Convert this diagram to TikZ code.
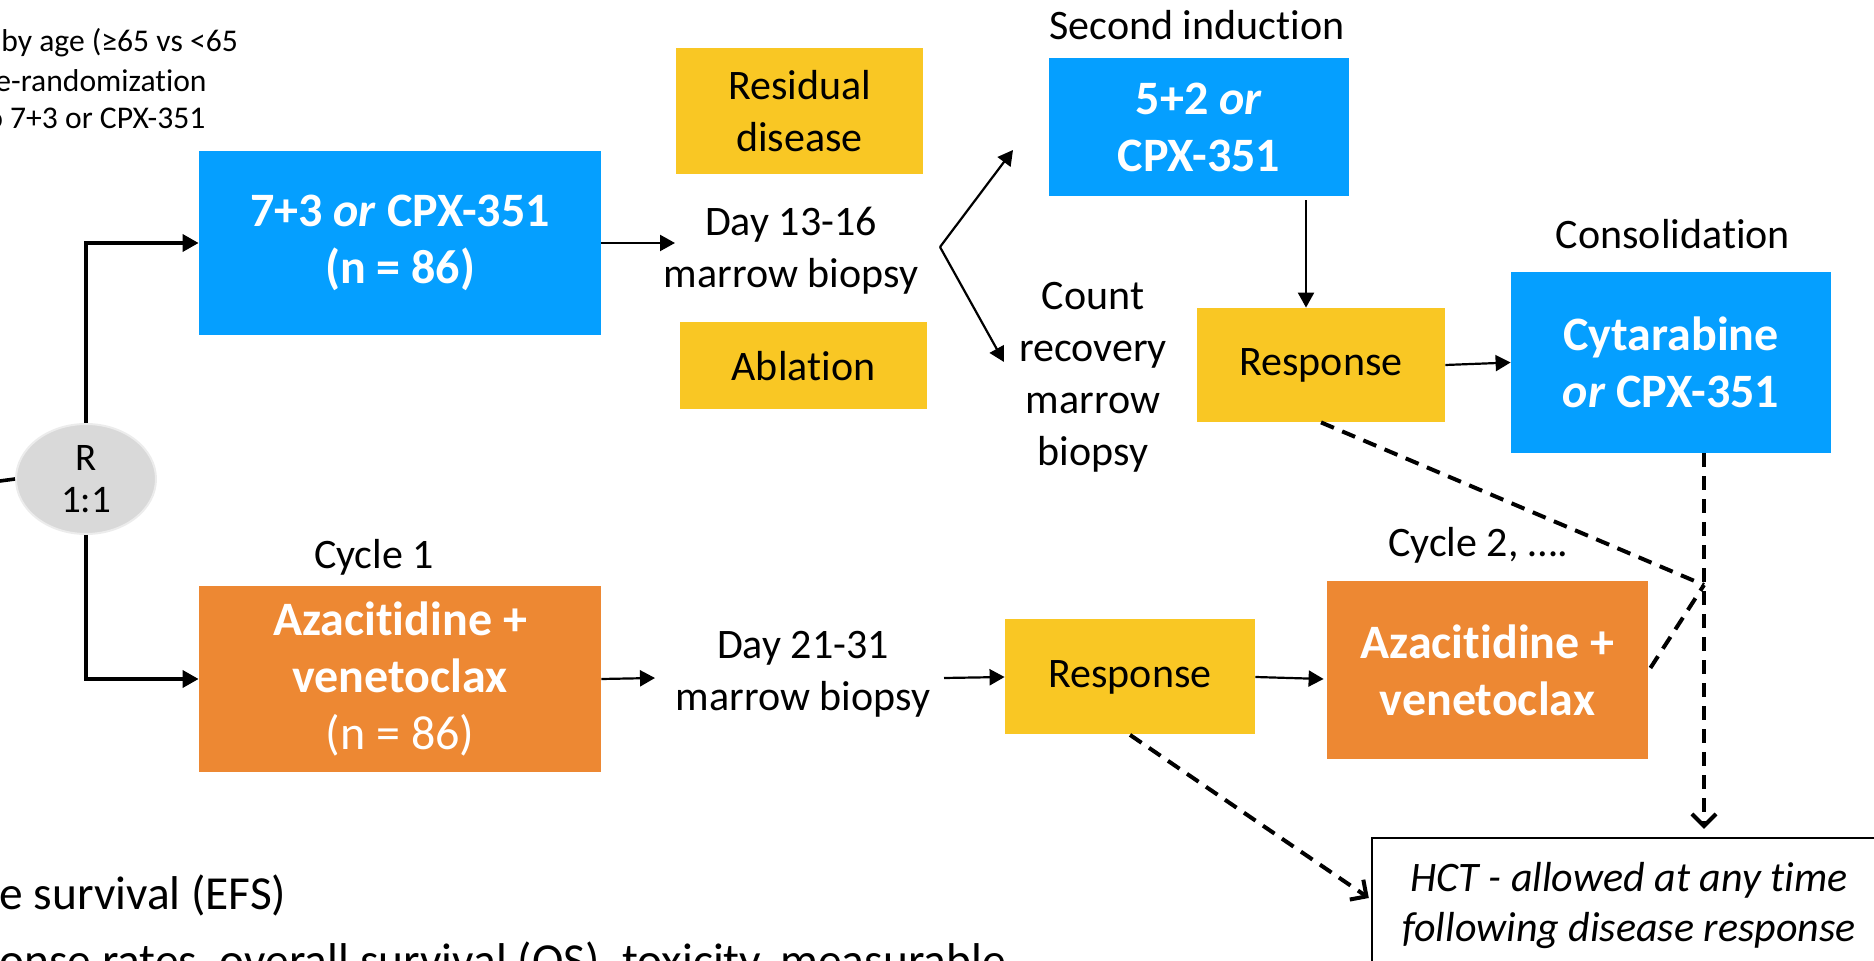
\documentclass[tikz,border=0pt]{standalone}
\usepackage{fontspec}
\setmainfont[RawFeature={-liga}]{Carlito}
\usetikzlibrary{arrows.meta,calc,shapes.geometric}
\definecolor{cblue}{RGB}{5,159,255}
\definecolor{corange}{RGB}{237,136,51}
\definecolor{cyellow}{RGB}{249,199,36}
\definecolor{rgray}{RGB}{217,217,217}
\definecolor{rgrayb}{RGB}{236,236,236}
\begin{document}
\begin{tikzpicture}[x=0.5pt,y=-0.5pt,
  txt/.style={font=\fontsize{21pt}{26pt}\selectfont, align=center, inner sep=0pt},
  tl/.style={font=\fontsize{15.8pt}{19pt}\selectfont, inner sep=0pt},
  bl/.style={font=\fontsize{23.7pt}{28pt}\selectfont, inner sep=0pt},
  boxtxt/.style={text=white, font=\fontsize{24pt}{28.5pt}\selectfont\bfseries, align=center, inner sep=0pt},
  bluebox/.style={boxtxt, fill=cblue},
  orangebox/.style={boxtxt, fill=corange},
  yellowbox/.style={txt, fill=cyellow},
  arr/.style={-{Triangle[length=7.5pt,width=8pt]}, line width=1.1pt},
  rarr/.style={-{Triangle[length=8pt,width=8.5pt]}, line width=1.8pt},
  dline/.style={dash pattern=on 7pt off 4.5pt, line width=2pt},
  darr/.style={dline, -{Straight Barb[length=6pt,width=12pt]}}
]
\useasboundingbox (0,0) rectangle (1874,961);

% top-left and bottom-left texts (cut by the page edge)
\node[tl, anchor=west] (s1) at (1,43) {by age (≥65 vs <65};
\node[tl, anchor=west] (s2) at (-5,81) {e-randomization};
\node[tl, anchor=west] (s3) at (-14,118) {o 7+3 or CPX-351};
\node[bl, anchor=base west] (e1) at (-1,909) {e survival (EFS)};
\node[bl, anchor=base west] (e2) at (-1,976) {onse rates, overall survival (OS), toxicity, measurable};

% randomisation
\node[ellipse, fill=rgray, draw=rgrayb, line width=1pt, minimum width=70pt, minimum height=55pt,
      inner sep=0pt, align=center, font=\fontsize{19.5pt}{21pt}\selectfont] (rnode) at (86,479) {R\\1:1};
\coordinate (lin) at (0,481);

% upper arm
\node[bluebox, minimum width=201pt, minimum height=92pt] (box1) at (400,243)
  {7+3 \textit{or} CPX-351\\(n = 86)};
\node[yellowbox, minimum width=123.5pt, minimum height=63pt] (resid) at (799.5,111) {Residual\\disease};
\node[yellowbox, minimum width=123.5pt, minimum height=43.5pt] (ablat) at (803.5,366) {Ablation};
\node[txt] (day1) at (791,251) {Day 13-16\\marrow biopsy};
\coordinate (day1in) at (675,243);
\coordinate (fork) at (940,247);
\coordinate (forkup) at (1013,150);
\coordinate (forkdn) at (1004,362);

\node[txt] (lab2) at (1197,25) {Second induction};
\node[bluebox, minimum width=150pt, minimum height=69pt] (box2) at (1199,127) {5+2 \textit{or}\\CPX-351};
\node[txt] (count) at (1093,377) {Count\\recovery\\marrow\\biopsy};
\node[yellowbox, minimum width=124pt, minimum height=57pt] (resp1) at (1321,365) {Response};
\coordinate (vx) at (1306,0);

\node[txt] (labc) at (1673,234) {Consolidation};
\node[bluebox, minimum width=160pt, minimum height=90.5pt] (cyt) at (1671,362.5) {Cytarabine\\\textit{or} CPX-351};

% lower arm
\node[txt] (lab1) at (374,557) {Cycle 1};
\node[orangebox, minimum width=201pt, minimum height=93pt] (aza1) at (400,679)
  {Azacitidine +\\venetoclax\\\mdseries(n = 86)};
\node[txt] (day2) at (803,674) {Day 21-31\\marrow biopsy};
\coordinate (day2in) at (655,678);
\coordinate (day2out) at (944,678);
\node[yellowbox, minimum width=125pt, minimum height=57.5pt] (resp2) at (1130,677) {Response};
\node[txt] (labc2) at (1478,545) {Cycle 2, ….};
\node[orangebox, minimum width=160.5pt, minimum height=89pt] (aza2) at (1487.5,670) {Azacitidine +\\venetoclax};

% HCT
\node[txt, font=\fontsize{21pt}{25pt}\selectfont\itshape, draw=black, line width=1.2pt, fill=white,
      minimum width=257pt, minimum height=63pt] (hct) at (1629,901) {};
\node[txt, font=\fontsize{21pt}{25pt}\selectfont\itshape] (hcttxt) at (1629,906)
  {HCT - allowed at any time\\following disease response};
\coordinate (junc) at (1704,585);

% connectors
\draw[line width=1.8pt] (lin) -- (rnode.west);
\draw[rarr] (rnode.north) |- (box1.west);
\draw[rarr] (rnode.south) |- (aza1.west);
\draw[arr] (box1.east) -- (day1in);
\draw[arr] (fork) -- (forkup);
\draw[arr] (fork) -- (forkdn);
\draw[arr, shorten <=2pt] (vx |- box2.south) -- (vx |- resp1.north);
\draw[arr] (resp1.east) -- (cyt.west);
\draw[arr] (aza1.east) -- (day2in);
\draw[arr] (day2out) -- (resp2.west);
\draw[arr] ($(resp2.east)+(0,0)$) -- ($(aza2.west)+(-3,9)$);

\draw[dline] (resp1.south) -- (junc);
\draw[dline] ($(aza2.east)+(2,-2)$) -- (junc);
\draw[darr] (junc |- cyt.south) -- ($(junc |- hct.north)+(0,-8)$);
\draw[darr] (resp2.south) -- ($(hct.west)+(-2,-3)$);
\end{tikzpicture}
\end{document}
